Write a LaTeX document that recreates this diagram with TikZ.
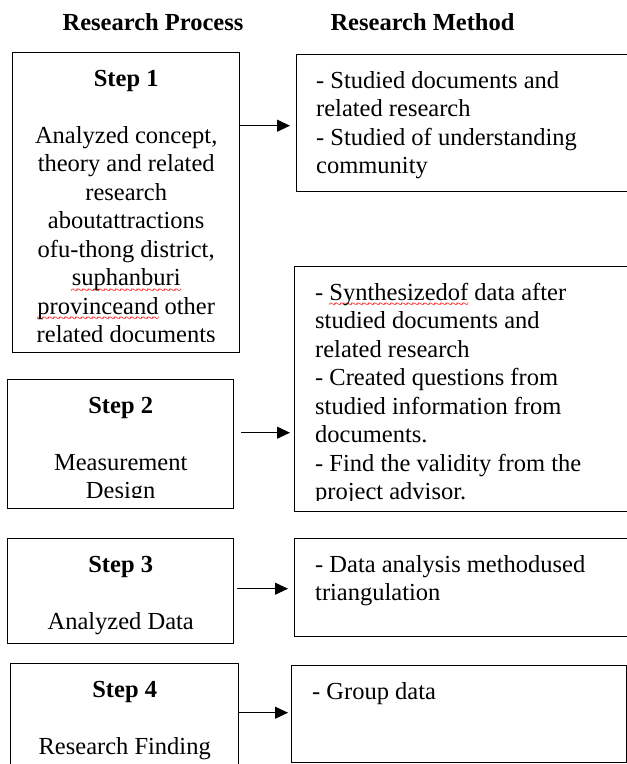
\documentclass[tikz,border=0pt]{standalone}
\usepackage{fontspec}
\setmainfont{Liberation Serif}
\usetikzlibrary{arrows.meta}
\newcommand\redwave[1]{\setbox0\hbox{#1}\rlap{\color{red}\lower8.5pt\hbox to\wd0{\xleaders\hbox{\fontsize{13}{13}\selectfont\kern-0.8pt\char"7E\kern-0.8pt}\hfil}}\box0\relax}

\begin{document}
\begin{tikzpicture}[x=1pt,y=1pt]
        \tikzstyle{head}=[anchor=base,inner sep=0pt,font=\fontsize{24.5}{28.5}\selectfont\bfseries]
        \tikzstyle{proc box}=[draw,line width=1.4pt,inner sep=0pt,anchor=north west]
        \tikzstyle{meth box}=[proc box]
        \tikzstyle{proc text}=[anchor=north,inner sep=0pt,align=center,font=\fontsize{24.5}{28.5}\selectfont]
        \tikzstyle{meth text}=[anchor=north west,inner sep=0pt,align=left,font=\fontsize{24.5}{28.5}\selectfont]
        \tikzstyle{arr}=[-{Triangle[length=13pt,width=12pt]},line width=1.1pt]

        \useasboundingbox (0,0) rectangle (627,-764);

        \node[head] (hp) at (153,-30) {Research Process};
        \node[head] (hm) at (422.5,-30) {Research Method};

        % left column
        \node[proc box,minimum width=227pt,minimum height=300pt] (p1) at (12,-52) {};
        \node[proc box,minimum width=226pt,minimum height=129pt] (p2) at (7,-379) {};
        \node[proc box,minimum width=226pt,minimum height=105pt] (p3) at (7,-538) {};
        \node[proc box,minimum width=228pt,minimum height=127pt] (p4) at (10,-663) {};

        % right column
        \node[meth box,minimum width=344pt,minimum height=137pt] (m1) at (296,-54) {};
        \node[meth box,minimum width=346pt,minimum height=245pt] (m2) at (294,-266) {};
        \node[meth box,minimum width=346pt,minimum height=98pt] (m3) at (294,-538) {};
        \node[meth box,minimum width=335pt,minimum height=97pt] (m4) at (291,-665) {};

        \begin{scope}
            \clip ([yshift=12pt]p1.south west) rectangle (p1.north east);
            \node[proc text] (s1) at ([yshift=-18pt]p1.north) {\textbf{Step 1}\\[28.5pt]
                Analyzed concept,\\theory and related\\research\\aboutattractions\\
                ofu-thong district,\\\redwave{suphanburi}\\\redwave{provinceand} other\\related documents};
        \end{scope}
        \begin{scope}
            \clip ([yshift=12pt]p2.south west) rectangle (p2.north east);
            \node[proc text] (s2) at ([yshift=-18pt]p2.north) {\textbf{Step 2}\\[28.5pt]Measurement\\Design};
        \end{scope}
        \node[proc text] (s3) at ([yshift=-18pt]p3.north) {\textbf{Step 3}\\[28.5pt]Analyzed Data};
        \node[proc text] (s4) at ([yshift=-18pt]p4.north) {\textbf{Step 4}\\[28.5pt]Research Finding};

        \node[meth text] (r1) at ([xshift=20pt,yshift=-17pt]m1.north west)
            {- Studied documents and\\related research\\- Studied of understanding\\community};
        \begin{scope}
            \clip ([yshift=12pt]m2.south west) rectangle (m2.north east);
            \node[meth text] (r2) at ([xshift=21pt,yshift=-17pt]m2.north west)
                {- \redwave{Synthesizedof} data after\\studied documents and\\related research\\
                - Created questions from\\studied information from\\documents.\\
                - Find the validity from the\\project advisor.};
        \end{scope}
        \node[meth text] (r3) at ([xshift=21pt,yshift=-17pt]m3.north west)
            {- Data analysis methodused\\triangulation};
        \node[meth text] (r4) at ([xshift=21pt,yshift=-17pt]m4.north west) {- Group data};

        \draw[arr,shorten >=6pt] ([yshift=77pt]p1.east) -- ([yshift=77pt]p1.east -| m1.west);
        \draw[arr,shorten <=7pt,shorten >=4pt] ([yshift=11.5pt]p2.east) -- ([yshift=11.5pt]p2.east -| m2.west);
        \draw[arr,shorten <=3pt,shorten >=6pt] ([yshift=2.5pt]p3.east) -- ([yshift=2.5pt]p3.east -| m3.west);
        \draw[arr,shorten >=3pt] ([yshift=14.5pt]p4.east) -- ([yshift=14.5pt]p4.east -| m4.west);
    \end{tikzpicture}
\end{document}
